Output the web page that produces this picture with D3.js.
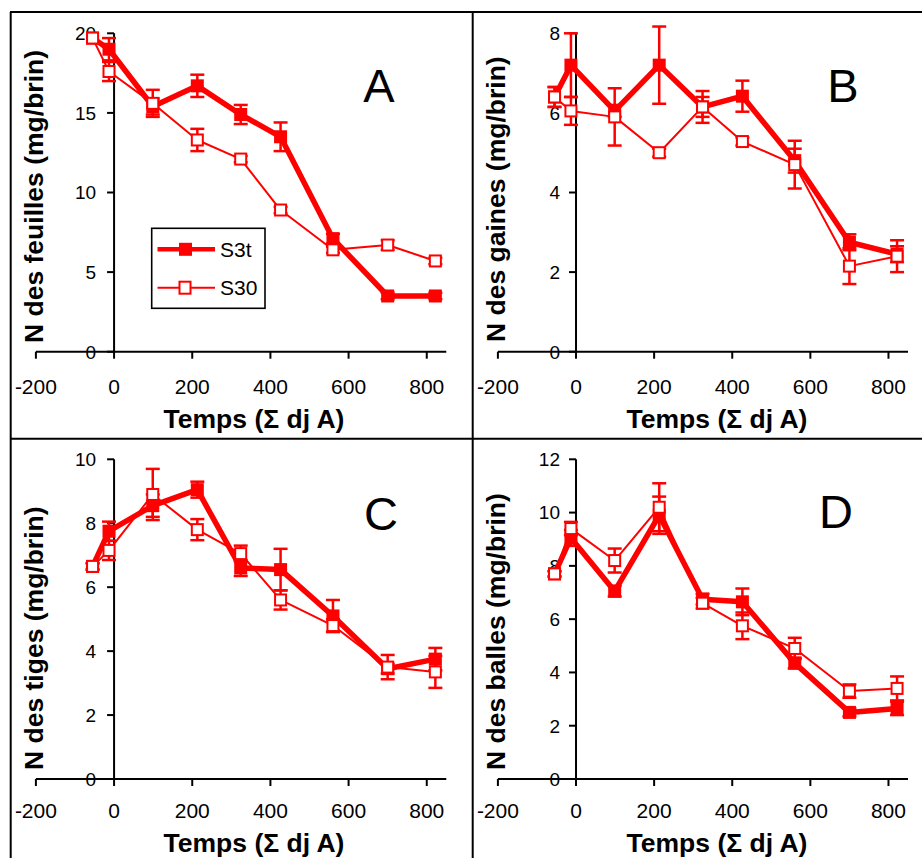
<!DOCTYPE html>
<html><head><meta charset="utf-8">
<script src="https://cdn.jsdelivr.net/npm/d3@7"></script>
<style>body{margin:0;background:#fff}svg{display:block}text{font-family:"Liberation Sans",Arial,sans-serif}</style>
</head><body>
<script>
// ---- data ----
const times = [-55, -13, 99, 213, 324, 426, 560, 700, 822];
const seriesNames = ["S3t", "S30"];
const xTicks = [-200, 0, 200, 400, 600, 800];

const feuillesS3t = [19.7, 19.0, 15.4, 16.7, 14.9, 13.5, 7.1, 3.5, 3.5];
const feuillesS3tErr = [0, 0.7, 0.5, 0.7, 0.6, 0.9, 0.3, 0.2, 0.2];
const feuillesS30 = [19.7, 17.6, 15.6, 13.3, 12.1, 8.9, 6.4, 6.7, 5.7];
const feuillesS30Err = [0, 0.6, 0.85, 0.7, 0.2, 0.2, 0.2, 0.3, 0.2];

const gainesS3t = [6.4, 7.2, 6.05, 7.2, 6.15, 6.42, 4.8, 2.75, 2.45];
const gainesS3tErr = [0.25, 0.8, 0.15, 0.97, 0.4, 0.39, 0.3, 0.2, 0.2];
const gainesS30 = [6.4, 6.05, 5.9, 5.0, 6.15, 5.28, 4.7, 2.15, 2.4];
const gainesS30Err = [0.25, 0.35, 0.72, 0.1, 0.25, 0.1, 0.6, 0.45, 0.4];

const tigesS3t = [6.65, 7.75, 8.55, 9.05, 6.6, 6.55, 5.1, 3.45, 3.75];
const tigesS3tErr = [0.1, 0.3, 0.35, 0.25, 0.25, 0.65, 0.5, 0.15, 0.35];
const tigesS30 = [6.65, 7.15, 8.9, 7.8, 7.05, 5.6, 4.8, 3.5, 3.35];
const tigesS30Err = [0.1, 0.3, 0.8, 0.33, 0.25, 0.3, 0.2, 0.38, 0.5];

const ballesS3t = [7.7, 9.05, 7.05, 9.9, 6.75, 6.65, 4.35, 2.5, 2.65];
const ballesS3tErr = [0.1, 0.3, 0.2, 0.7, 0.2, 0.5, 0.2, 0.15, 0.25];
const ballesS30 = [7.7, 9.4, 8.2, 10.2, 6.6, 5.75, 4.9, 3.3, 3.4];
const ballesS30Err = [0.1, 0.25, 0.45, 0.9, 0.2, 0.5, 0.4, 0.25, 0.45];

const panelLetters = ["A", "B", "C", "D"];
const yTitles = ["N des feuilles (mg/brin)", "N des gaines (mg/brin)", "N des tiges (mg/brin)", "N des balles (mg/brin)"];
const yTicksList = [[0, 5, 10, 15, 20], [0, 2, 4, 6, 8], [0, 2, 4, 6, 8, 10], [0, 2, 4, 6, 8, 10, 12]];
const yMax = [20, 8, 10, 12];
const xTitle = "Temps (\u03A3 dj A)";

// ---- layout ----
const W = 922, H = 858, RED = "#ff0000";
const svg = d3.select("body").append("svg").attr("width", W).attr("height", H);
svg.append("rect").attr("width", W).attr("height", H).attr("fill", "#fff");

const panels = [
  {x0: 35.9, x1: 446.3, y0: 351.7, y1: 33.3, ylab: 18, xlabDy: 42.3, titleX: 42.5, titleBottom: 343, xtX: 254, xtY: 427.5, letX: 379, letY: 102,
   s3t: feuillesS3t, s3tE: feuillesS3tErr, s30: feuillesS30, s30E: feuillesS30Err, legend: true},
  {x0: 497.9, x1: 908, y0: 351.7, y1: 33.3, ylab: 16, xlabDy: 42.3, titleX: 505, titleBottom: 342, xtX: 717, xtY: 427.5, letX: 843, letY: 102,
   s3t: gainesS3t, s3tE: gainesS3tErr, s30: gainesS30, s30E: gainesS30Err},
  {x0: 35.9, x1: 446.3, y0: 779, y1: 459.3, ylab: 18, xlabDy: 39.3, titleX: 42.5, titleBottom: 770, xtX: 254, xtY: 851.5, letX: 381, letY: 530,
   s3t: tigesS3t, s3tE: tigesS3tErr, s30: tigesS30, s30E: tigesS30Err},
  {x0: 497.9, x1: 908, y0: 779, y1: 459.3, ylab: 16, xlabDy: 39.3, titleX: 505, titleBottom: 770, xtX: 717, xtY: 851.5, letX: 836, letY: 528,
   s3t: ballesS3t, s3tE: ballesS3tErr, s30: ballesS30, s30E: ballesS30Err}
];

// frame lines
const frame = svg.append("g").attr("stroke", "#000").attr("stroke-width", 2);
frame.append("line").attr("x1", 10).attr("x2", W).attr("y1", 12).attr("y2", 12);
frame.append("line").attr("x1", 10.7).attr("x2", 10.7).attr("y1", 12).attr("y2", H);
frame.append("line").attr("x1", 472.7).attr("x2", 472.7).attr("y1", 12).attr("y2", H);
frame.append("line").attr("x1", 10).attr("x2", W).attr("y1", 438.7).attr("y2", 438.7);

panels.forEach((p, i) => {
  const g = svg.append("g");
  const x = d3.scaleLinear().domain([-200, 850]).range([p.x0, p.x1]);
  const y = d3.scaleLinear().domain([0, yMax[i]]).range([p.y0, p.y1]);

  // axes
  const ax = g.append("g").attr("stroke", "#000").attr("stroke-width", 2);
  ax.append("line").attr("x1", x(-200)).attr("x2", x(850)).attr("y1", y(0)).attr("y2", y(0));
  ax.append("line").attr("x1", x(0)).attr("x2", x(0)).attr("y1", y(0)).attr("y2", y(yMax[i]));
  xTicks.forEach(t => ax.append("line").attr("x1", x(t)).attr("x2", x(t)).attr("y1", y(0)).attr("y2", y(0) + 7));
  yTicksList[i].forEach(t => ax.append("line").attr("x1", x(0) - 7).attr("x2", x(0)).attr("y1", y(t)).attr("y2", y(t)));

  xTicks.forEach(t => g.append("text").attr("x", x(t)).attr("y", y(0) + p.xlabDy)
    .attr("text-anchor", "middle").attr("font-size", 21).attr("fill", "#000").text(t));
  yTicksList[i].forEach(t => g.append("text").attr("x", x(0) - p.ylab).attr("y", y(t) + 6.8)
    .attr("text-anchor", "end").attr("font-size", 19).attr("fill", "#000").text(t));

  // titles
  g.append("text").attr("transform", `translate(${p.titleX},${p.titleBottom}) rotate(-90)`)
    .attr("text-anchor", "start").attr("font-size", 26.5).attr("font-weight", "bold").attr("fill", "#000").text(yTitles[i]);
  g.append("text").attr("x", p.xtX).attr("y", p.xtY).attr("text-anchor", "middle")
    .attr("font-size", 26.5).attr("font-weight", "bold").attr("fill", "#000").text(xTitle);
  g.append("text").attr("x", p.letX).attr("y", p.letY).attr("text-anchor", "middle")
    .attr("font-size", 47).attr("fill", "#000").text(panelLetters[i]);

  const line = d3.line().x((d, j) => x(times[j])).y(d => y(d));

  const drawSeries = (vals, errs, filled) => {
    const sg = g.append("g");
    const eb = sg.append("g").attr("stroke", RED).attr("stroke-width", 2.5);
    vals.forEach((v, j) => {
      if (!errs[j]) return;
      const cx = x(times[j]), ya = y(v + errs[j]), yb = y(v - errs[j]);
      eb.append("line").attr("x1", cx).attr("x2", cx).attr("y1", ya).attr("y2", yb);
      eb.append("line").attr("x1", cx - 7).attr("x2", cx + 7).attr("y1", ya).attr("y2", ya);
      eb.append("line").attr("x1", cx - 7).attr("x2", cx + 7).attr("y1", yb).attr("y2", yb);
    });
    sg.append("path").attr("d", line(vals)).attr("fill", "none").attr("stroke", RED)
      .attr("stroke-width", filled ? 5.5 : 2).attr("stroke-linejoin", "round");
    vals.forEach((v, j) => {
      if (filled) sg.append("rect").attr("x", x(times[j]) - 6.5).attr("y", y(v) - 6.5).attr("width", 13).attr("height", 13).attr("fill", RED);
      else sg.append("rect").attr("x", x(times[j]) - 5.5).attr("y", y(v) - 5.5).attr("width", 11).attr("height", 11)
        .attr("fill", "#fff").attr("stroke", RED).attr("stroke-width", 2);
    });
  };
  drawSeries(p.s3t, p.s3tE, true);
  drawSeries(p.s30, p.s30E, false);

  if (p.legend) {
    const lg = g.append("g");
    lg.append("rect").attr("x", 151.7).attr("y", 228.3).attr("width", 113.3).attr("height", 80)
      .attr("fill", "#fff").attr("stroke", "#000").attr("stroke-width", 1.6);
    const rows = [{name: seriesNames[0], y: 249.3, filled: true}, {name: seriesNames[1], y: 287.7, filled: false}];
    rows.forEach(r => {
      lg.append("line").attr("x1", 157.5).attr("x2", 215).attr("y1", r.y).attr("y2", r.y)
        .attr("stroke", RED).attr("stroke-width", r.filled ? 4.5 : 2);
      if (r.filled) lg.append("rect").attr("x", 185.5 - 6.5).attr("y", r.y - 6.5).attr("width", 13).attr("height", 13).attr("fill", RED);
      else lg.append("rect").attr("x", 185 - 5.5).attr("y", r.y - 6).attr("width", 11).attr("height", 12)
        .attr("fill", "#fff").attr("stroke", RED).attr("stroke-width", 2);
      lg.append("text").attr("x", 220).attr("y", r.y + 7.5).attr("font-size", 21).attr("fill", "#000").text(r.name);
    });
  }
});
</script>
</body></html>
